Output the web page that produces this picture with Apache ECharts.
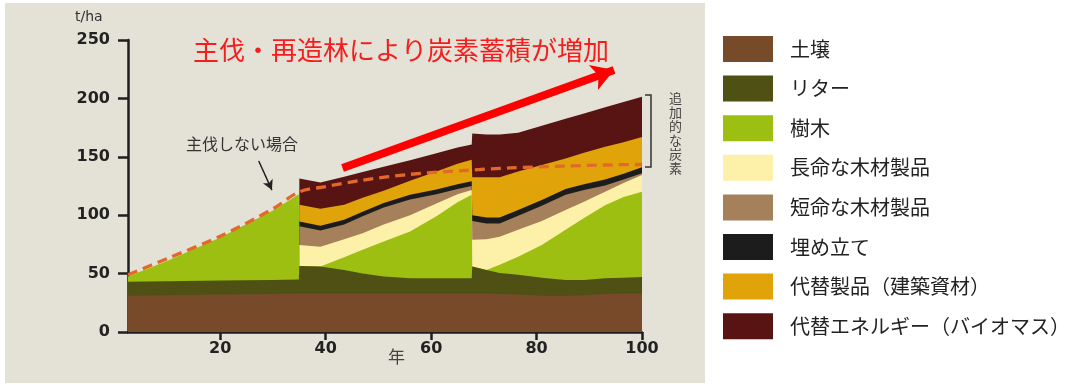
<!DOCTYPE html>
<html>
<head>
<meta charset="utf-8">
<script src="https://cdn.jsdelivr.net/npm/echarts@6/dist/echarts.min.js"></script>
<style>
  body { margin: 0; background: #fff; }
  #carbonChart { width: 1081px; height: 385px; }
</style>
</head>
<body>
<div id="carbonChart"></div>
<script>
// 年 (harvest at ~35 and ~68: two x values close together make the vertical drop)
var years = [2.5, 10, 20, 30, 34.9, 35, 39, 43.5, 47, 51, 56, 61, 65, 67.7, 67.8, 70.5, 73, 76.5, 81, 85.5, 89, 93, 96.5, 100];

// layer thickness, t/ha (null = layer not present yet)
var soil = [31, 31.5, 32, 32.5, 33, 33, 33, 33, 33, 33, 33, 33, 33, 33, 33, 33, 32.5, 32, 31, 31, 31.5, 32.5, 33, 33];
var litter = [12, 12, 12, 12, 12, 23.5, 23, 20, 17, 14.5, 13, 13, 13, 13, 23, 20, 18, 17, 15.5, 13.5, 13, 13.5, 13.5, 14];
var trees = [4.5, 17.5, 37, 59.5, 73, 0, 0, 11, 20.5, 30, 40, 53, 65, 71.5, 0, 0, 7, 15.5, 28, 43, 53, 62.5, 69, 73];
var longLived = [null, null, null, null, null, 18, 17, 15.5, 14, 14.5, 14, 11, 7, 4, 23, 26.5, 24, 23, 20.5, 17, 14, 11.5, 12, 14.5];
var shortLived = [null, null, null, null, null, 16, 14, 12.5, 14.5, 14.5, 13.5, 8, 4.5, 3.5, 16, 13.5, 11.5, 12, 13, 13, 10, 5.5, 3, 1.5];
var landfill = [null, null, null, null, null, 4, 4, 4, 4, 4, 4, 4, 4, 4, 5, 5, 5, 5, 5, 5, 5, 5, 5, 5];
var substituteProducts = [null, null, null, null, null, 14.5, 14.5, 13, 12, 10.5, 12, 15.5, 17.5, 18.5, 32.5, 34.5, 34.5, 33, 30, 26, 27, 28, 27, 26];
var substituteEnergy = [null, null, null, null, null, 22.5, 22.5, 24, 22, 20.5, 17.5, 15.5, 14, 13, 37.5, 36.5, 36.5, 33, 33.5, 34, 33.5, 34, 34.5, 34.5];

// 主伐しない場合 (dashed)
var noHarvestYears = [2.5, 10, 20, 30, 35, 40, 47, 56, 67, 75, 85, 93, 100];
var noHarvest = [49, 63, 82, 105.5, 120, 124.5, 130, 135, 138.5, 140.5, 142, 143, 143.5];

var layerNames = ['土壌', 'リター', '樹木', '長命な木材製品', '短命な木材製品', '埋め立て', '代替製品（建築資材）', '代替エネルギー（バイオマス）'];
var layerData = [soil, litter, trees, longLived, shortLived, landfill, substituteProducts, substituteEnergy];
var layerColors = ['#774a2a', '#4e5014', '#9cbf12', '#fdf0a8', '#a6805a', '#1c1c1c', '#e0a40a', '#581313'];

var xTicks = [20, 40, 60, 80, 100];
var redArrow = [[43.2, 140.4], [94.7, 224.3]];
var blackArrow = [[27.3, 146.4], [29.8, 121.5]];

var jpFont = '"Noto Sans CJK JP", sans-serif';

// running totals so every layer is filled down to the axis, top layer drawn first
var tops = [];
var base = years.map(function () { return 0; });
for (var k = 0; k < layerData.length; k++) {
  var t = [];
  for (var i = 0; i < years.length; i++) {
    var v = layerData[k][i];
    if (v == null) { t.push([years[i], null]); }
    else { base[i] += v; t.push([years[i], base[i]]); }
  }
  tops.push(t);
}

var series = [];
for (var k = layerData.length - 1; k >= 0; k--) {
  series.push({
    name: layerNames[k],
    type: 'line',
    color: layerColors[k],
    data: tops[k],
    showSymbol: false,
    symbol: 'none',
    lineStyle: { width: 0 },
    areaStyle: { color: layerColors[k], opacity: 1, origin: 'start' },
    silent: true
  });
}

series.push({
  name: 'noHarvest',
  type: 'line',
  data: noHarvestYears.map(function (x, i) { return [x, noHarvest[i]]; }),
  showSymbol: false,
  symbol: 'none',
  smooth: 0.3,
  z: 5,
  lineStyle: { color: '#e2692b', width: 3.3, type: [10, 6] },
  markLine: {
    silent: true,
    animation: false,
    label: { show: false },
    data: [
      [{ coord: redArrow[0], symbol: 'none' },
       { coord: redArrow[1], symbol: 'arrow', symbolSize: [20, 22],
         lineStyle: { color: '#ff0000', width: 8, type: 'solid' } }],
      [{ coord: blackArrow[0], symbol: 'none' },
       { coord: blackArrow[1], symbol: 'arrow', symbolSize: [8, 10],
         lineStyle: { color: '#222', width: 1.5, type: 'solid' } }]
    ]
  }
});

var myChart = echarts.init(document.getElementById('carbonChart'));
var option = {
  animation: false,
  backgroundColor: '#ffffff',
  graphic: [
    { type: 'rect', z: -10, shape: { x: 5, y: 3, width: 700, height: 380 }, style: { fill: '#e4e2d6' } },
    { type: 'text', left: 75, top: 10, style: { text: 't/ha', fontSize: 14, fontFamily: 'DejaVu Sans', fill: '#333' } },
    { type: 'text', left: 388, top: 348, style: { text: '年', fontSize: 17, fontFamily: jpFont, fill: '#444' } },
    { type: 'text', left: 193, top: 37, style: { text: '主伐・再造林により炭素蓄積が増加', fontSize: 26, fontFamily: jpFont, fill: '#f51d1d' } },
    { type: 'text', left: 186, top: 136, style: { text: '主伐しない場合', fontSize: 16, fontFamily: jpFont, fill: '#333' } },
    { type: 'polyline', shape: { points: [[645, 95], [651, 95], [651, 167], [645, 167]] }, style: { stroke: '#333', lineWidth: 1.5, fill: null } },
    { type: 'text', left: 669, top: 91, style: { text: '追\n加\n的\nな\n炭\n素', fontSize: 13, lineHeight: 14, fontFamily: jpFont, fill: '#444' } }
  ],
  legend: {
    data: layerNames,
    orient: 'vertical',
    left: 723,
    top: 36,
    padding: 0,
    itemWidth: 50,
    itemHeight: 26,
    itemGap: 13.6,
    icon: 'rect',
    selectedMode: false,
    textStyle: { fontSize: 20, fontFamily: jpFont, color: '#222', padding: [0, 0, 0, 12] }
  },
  grid: { left: 128, right: 439, top: 40, bottom: 53 },
  xAxis: {
    type: 'value',
    min: 2.5,
    max: 100,
    axisLine: { lineStyle: { color: '#1e1e1e', width: 2.5 } },
    axisTick: { show: true, length: 8, customValues: xTicks, lineStyle: { color: '#1e1e1e', width: 2.5 } },
    axisLabel: { customValues: xTicks, margin: 9, fontSize: 16, fontWeight: 'bold', fontFamily: 'DejaVu Sans', color: '#222' },
    splitLine: { show: false }
  },
  yAxis: {
    type: 'value',
    min: 0,
    max: 250,
    interval: 50,
    axisLine: { show: true, lineStyle: { color: '#1e1e1e', width: 2.5 } },
    axisTick: { show: true, length: 10, lineStyle: { color: '#1e1e1e', width: 2.5 } },
    axisLabel: { margin: 18, fontSize: 16, fontWeight: 'bold', fontFamily: 'DejaVu Sans', color: '#222' },
    splitLine: { show: false }
  },
  series: series
};
myChart.setOption(option);
</script>
</body>
</html>
